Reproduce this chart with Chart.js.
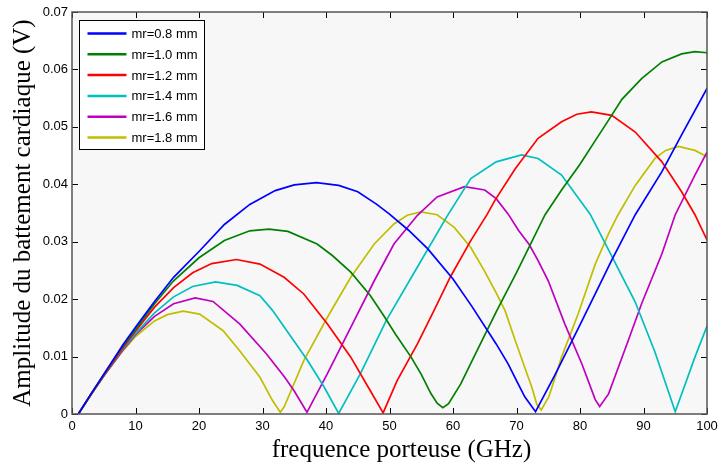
<!DOCTYPE html>
<html>
<head>
<meta charset="utf-8">
<script src="https://cdn.jsdelivr.net/npm/chart.js@4"></script>
<style>
  body { margin: 0; background: #fff; }
  #wrap { width: 719px; height: 466px; }
</style>
</head>
<body>
<div id="wrap"><canvas id="myChart" width="719" height="466"></canvas></div>
<script>
'use strict';

// values (GHz / V)
let xTicks = [0, 10, 20, 30, 40, 50, 60, 70, 80, 90, 100];
let yTickLabels = ['0', '0.01', '0.02', '0.03', '0.04', '0.05', '0.06', '0.07'];
let seriesNames = ['mr=0.8 mm', 'mr=1.0 mm', 'mr=1.2 mm', 'mr=1.4 mm', 'mr=1.6 mm', 'mr=1.8 mm'];
let seriesColors = ['#0000ff', '#008000', '#ff0000', '#00bfbf', '#bf00bf', '#bfbf00'];
let xTitle = 'frequence porteuse (GHz)';

let blueFreq = [1,3,5,8,10,13,16,20,24,28,32,35,38.5,42,45,48,50,53,56,60,63,66.8,68.7,70,71.3,73,76,80,85,88.7,92.9,96,100];
let blueAmp = [0,0.0035,0.0069,0.0120,0.0151,0.0196,0.0238,0.0283,0.0330,0.0365,0.0389,0.0399,0.0403,0.0398,0.0387,0.0365,0.0348,0.0320,0.0288,0.0235,0.0187,0.0122,0.0087,0.0058,0.0030,0.0004,0.0067,0.0155,0.0268,0.0347,0.0422,0.0486,0.0567];

let greenFreq = [1,3,5,8,10,13,16,20,24,28,31,34,38.6,41,43.9,47,49.1,51,53.4,55,56.5,57.5,58.4,59.3,61.2,64,66.8,70,74.5,77.1,80,82.4,84.4,86.6,89.7,92.9,96,98.1,100];
let greenAmp = [0,0.0035,0.0069,0.0118,0.0147,0.0192,0.0232,0.0272,0.0302,0.0319,0.0322,0.0318,0.0296,0.0276,0.0247,0.0206,0.0171,0.0138,0.0099,0.0069,0.0036,0.0019,0.0011,0.0018,0.0052,0.0115,0.0178,0.0246,0.0347,0.0390,0.0435,0.0476,0.0510,0.0548,0.0584,0.0613,0.0627,0.0631,0.0629];

let redFreq = [1,3,5,8,10,13,16,19,22,25.9,29.6,33.4,36.5,40.2,43.9,47,49,51.2,54.4,57,59.6,62.8,65.4,66.6,69.8,73.4,77.1,79.5,81.8,85,88.7,92.9,96,98.1,100];
let redAmp = [0,0.0034,0.0067,0.0115,0.0144,0.0186,0.0220,0.0246,0.0262,0.0269,0.0261,0.0238,0.0209,0.0157,0.0099,0.0040,0.0002,0.0058,0.0122,0.0180,0.0239,0.0302,0.0348,0.0372,0.0427,0.0480,0.0509,0.0522,0.0526,0.0520,0.0491,0.0439,0.0387,0.0347,0.0303];

let cyanFreq = [1,3,5,8,10,13,16,19,22.6,26,29.6,31.6,33.5,37.1,39.7,42,45.4,49.5,54.4,59.1,62.8,66.8,70.8,73.4,77.1,81.6,85,88.7,91.8,95,98.1,100];
let cyanAmp = [0,0.0034,0.0066,0.0113,0.0140,0.0176,0.0204,0.0222,0.0230,0.0224,0.0206,0.0180,0.0150,0.0093,0.0047,0.0001,0.0070,0.0163,0.0256,0.0345,0.0410,0.0439,0.0451,0.0445,0.0416,0.0348,0.0275,0.0195,0.0108,0.0004,0.0099,0.0153];

let magentaFreq = [1,3,5,8,10,13,16,19.4,22.2,26.4,30.6,33.5,35,37,40.2,43.9,47.6,50.7,54.4,57.5,61.8,65,66.8,68.7,70.3,72,73.4,75,77.6,80.3,82.4,83.1,84.5,87.6,89.7,92.9,95,98.1,100];
let magentaAmp = [0,0.0034,0.0066,0.0111,0.0138,0.0170,0.0192,0.0202,0.0196,0.0157,0.0105,0.0064,0.0040,0.0003,0.0070,0.0151,0.0232,0.0296,0.0346,0.0378,0.0396,0.0390,0.0375,0.0348,0.0320,0.0295,0.0267,0.0232,0.0157,0.0087,0.0025,0.0013,0.0035,0.0128,0.0192,0.0279,0.0347,0.0416,0.0456];

let yellowFreq = [1,3,5,8,10,13,15,17.5,20.1,23.8,26.4,29.6,31.6,32.8,33.4,36.5,40.2,43.9,47.6,50.7,52.8,54.9,57.5,60.2,62.8,64.9,66.7,68.2,69.8,71.3,72.4,73.2,73.9,75.1,77.1,79.7,82.4,84.5,86,88.7,91.8,93.5,95.5,98.1,100];
let yellowAmp = [0,0.0034,0.0066,0.0110,0.0135,0.0162,0.0173,0.0179,0.0174,0.0145,0.0110,0.0064,0.0023,0.0003,0.0012,0.0093,0.0168,0.0238,0.0296,0.0331,0.0346,0.0352,0.0347,0.0325,0.0290,0.0250,0.0213,0.0180,0.0128,0.0081,0.0047,0.0017,0.0007,0.0030,0.0099,0.0174,0.0261,0.0314,0.0347,0.0398,0.0445,0.0459,0.0466,0.0459,0.0448];

let allFreq = [blueFreq, greenFreq, redFreq, cyanFreq, magentaFreq, yellowFreq];
let allAmp = [blueAmp, greenAmp, redAmp, cyanAmp, magentaAmp, yellowAmp];

function makePoints(freqs, amps) {
  let pts = [];
  for (let i = 0; i < freqs.length; i++) {
    pts.push({ x: freqs[i], y: amps[i] });
  }
  return pts;
}

let datasets = [];
for (let i = 0; i < seriesNames.length; i++) {
  datasets.push({
    label: seriesNames[i],
    data: makePoints(allFreq[i], allAmp[i]),
    borderColor: seriesColors[i],
    backgroundColor: seriesColors[i],
    borderWidth: 1.7,
    pointRadius: 0,
    tension: 0,
    fill: false
  });
}

// matlab look: grey plot area, box, inward ticks, boxed legend
const matlabFrame = {
  id: 'matlabFrame',
  beforeDraw(chart) {
    let a = chart.chartArea;
    let ctx = chart.ctx;
    ctx.save();
    ctx.fillStyle = '#f7f7f7';
    ctx.fillRect(a.left, a.top, a.right - a.left, a.bottom - a.top);
    ctx.restore();
  },
  afterDatasetsDraw(chart) {
    let a = chart.chartArea;
    let ctx = chart.ctx;
    let xs = chart.scales.x;
    let ys = chart.scales.y;
    ctx.save();
    ctx.strokeStyle = '#000';
    ctx.lineWidth = 1;
    ctx.beginPath();
    xTicks.forEach(function (t) {
      let px = Math.round(xs.getPixelForValue(t)) + 0.5;
      ctx.moveTo(px, a.bottom); ctx.lineTo(px, a.bottom - 6);
      ctx.moveTo(px, a.top); ctx.lineTo(px, a.top + 6);
    });
    for (let i = 0; i < yTickLabels.length; i++) {
      let py = Math.round(ys.getPixelForValue(i * 0.01)) + 0.5;
      ctx.moveTo(a.left, py); ctx.lineTo(a.left + 6, py);
      ctx.moveTo(a.right, py); ctx.lineTo(a.right - 6, py);
    }
    ctx.stroke();

    ctx.strokeStyle = '#555';
    ctx.lineWidth = 1.5;
    ctx.strokeRect(a.left, a.top, a.right - a.left, a.bottom - a.top);

    // x title, sits a little right of centre in the original
    ctx.fillStyle = '#000';
    ctx.font = '25px "Liberation Serif", "Times New Roman", serif';
    ctx.textAlign = 'center';
    ctx.textBaseline = 'middle';
    ctx.fillText(xTitle, (a.left + a.right) / 2 + 12, 450);

    // legend
    let lx = a.left + 7.5, ly = a.top + 8.5, lw = 125, lh = 129;
    ctx.fillStyle = '#fff';
    ctx.fillRect(lx, ly, lw, lh);
    ctx.strokeStyle = '#000';
    ctx.lineWidth = 1;
    ctx.strokeRect(lx, ly, lw, lh);
    ctx.font = '13px "Liberation Sans", Arial, sans-serif';
    ctx.textAlign = 'left';
    ctx.textBaseline = 'middle';
    for (let i = 0; i < seriesNames.length; i++) {
      let ry = ly + 13 + i * 20.8;
      ctx.strokeStyle = seriesColors[i];
      ctx.lineWidth = 2.5;
      ctx.beginPath();
      ctx.moveTo(lx + 8, ry); ctx.lineTo(lx + 47, ry);
      ctx.stroke();
      ctx.fillStyle = '#000';
      ctx.fillText(seriesNames[i], lx + 52, ry + 1);
    }
    ctx.restore();
  }
};

const ctx = document.getElementById('myChart');

new Chart(ctx, {
  type: 'line',
  data: { datasets: datasets },
  options: {
    responsive: false,
    animation: false,
    events: [],
    layout: { padding: { top: 12, right: 12, left: 0, bottom: 0 } },
    plugins: {
      legend: { display: false },
      tooltip: { enabled: false }
    },
    scales: {
      x: {
        type: 'linear',
        min: 0,
        max: 100,
        grid: { display: false, drawTicks: false },
        border: { display: false },
        afterBuildTicks(scale) { scale.ticks = xTicks.map(v => ({ value: v })); },
        afterFit(scale) {
          scale.height = 52;
          scale.paddingLeft = 0;
          scale.paddingRight = 0;
        },
        ticks: {
          color: '#000',
          padding: 5,
          maxRotation: 0,
          font: { family: '"Liberation Sans", Arial, sans-serif', size: 13 }
        },
        title: { display: false }
      },
      y: {
        min: 0,
        max: 0.07,
        grid: { display: false, drawTicks: false },
        border: { display: false },
        afterBuildTicks(scale) { scale.ticks = yTickLabels.map((s, i) => ({ value: i * 0.01 })); },
        afterFit(scale) {
          scale.width = 72;
          scale.paddingTop = 0;
          scale.paddingBottom = 0;
        },
        ticks: {
          color: '#000',
          padding: 4,
          font: { family: '"Liberation Sans", Arial, sans-serif', size: 13 },
          callback: function (v, i) { return yTickLabels[i]; }
        },
        title: {
          display: true,
          text: 'Amplitude du battement cardiaque (V)',
          color: '#000',
          padding: { top: 8, bottom: 0 },
          font: { family: '"Liberation Serif", "Times New Roman", serif', size: 25 }
        }
      }
    }
  },
  plugins: [matlabFrame]
});
</script>
</body>
</html>
